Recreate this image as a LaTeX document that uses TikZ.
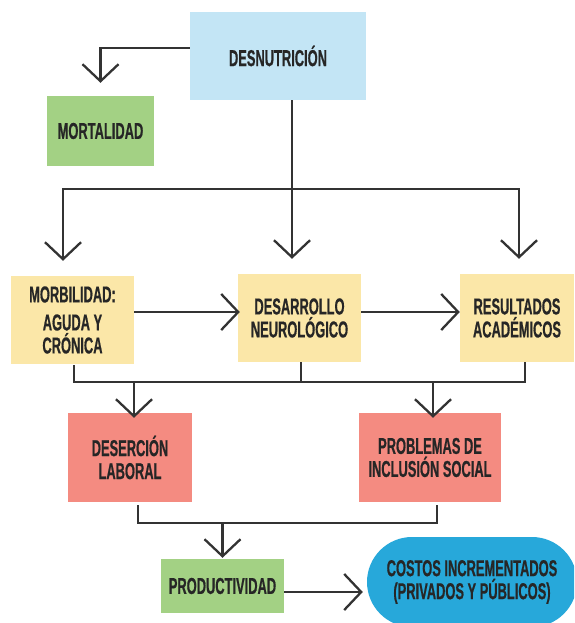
\documentclass[tikz,border=0pt]{standalone}
\usepackage{fontspec}
\newfontfamily\cf{Liberation Sans}[FakeStretch=0.56,FakeBold=0.6]
\usetikzlibrary{arrows.meta,calc}
\definecolor{cBlueL}{HTML}{C3E5F5}
\definecolor{cGreen}{HTML}{A3D184}
\definecolor{cYellow}{HTML}{FBE7A8}
\definecolor{cSalmon}{HTML}{F48B81}
\definecolor{cBlue}{HTML}{27A8DA}
\definecolor{cLine}{HTML}{333333}
\definecolor{cText}{HTML}{262626}
\tikzset{
  box/.style={rectangle, inner sep=0pt, align=center, text=cText,
    font=\cf\bfseries\fontsize{23}{23}\selectfont},
  line/.style={draw=cLine, line width=2.3pt},
  arr/.style={line, -{Straight Barb[length=17pt,width=36pt]}},
}
\begin{document}
\begin{tikzpicture}[x=1pt,y=1pt]
\useasboundingbox (0,0) rectangle (574,-623);
% nodes
\node[box, fill=cBlueL, minimum width=176pt, minimum height=88pt] (desn) at (278,-56) {DESNUTRICIÓN};
\node[box, fill=cGreen, minimum width=107pt, minimum height=70pt] (mort) at (100.5,-131) {MORTALIDAD};
\node[box, fill=cYellow, minimum width=123pt, minimum height=88pt] (morb) at (72.5,-320) {MORBILIDAD:\\[5pt]AGUDA Y\\CRÓNICA};
\node[box, fill=cYellow, minimum width=123pt, minimum height=88pt] (desa) at (299.5,-318) {DESARROLLO\\NEUROLÓGICO};
\node[box, fill=cYellow, minimum width=114pt, minimum height=88pt] (resu) at (517,-318) {RESULTADOS\\ACADÉMICOS};
\node[box, fill=cSalmon, minimum width=124pt, minimum height=89pt] (dese) at (130,-457.5) {DESERCIÓN\\LABORAL};
\node[box, fill=cSalmon, minimum width=142pt, minimum height=89pt] (prob) at (430,-457.5) {PROBLEMAS DE\\INCLUSIÓN SOCIAL};
\node[box, fill=cGreen, minimum width=123pt, minimum height=54pt] (prod) at (222.5,-586) {PRODUCTIVIDAD};
\begin{scope}
\clip (0,0) rectangle (574,-623);
\node[box, fill=cBlue, rounded corners=45pt, minimum width=210pt, minimum height=90pt] (cost) at (472,-582) {COSTOS INCREMENTADOS\\(PRIVADOS Y PÚBLICOS)};
\end{scope}
% connectors
\draw[arr] ([yshift=8pt]desn.west) -| ([yshift=13pt]mort.north);
\draw[line] ([xshift=14pt]desn.south) -- ++(0,-89) coordinate (j1);
\draw[arr] (j1) -| ([xshift=-9.5pt,yshift=15pt]morb.north);
\draw[arr] (j1) -- ([xshift=-7.5pt,yshift=15pt]desa.north);
\draw[arr] (j1) -| ([xshift=2pt,yshift=15pt]resu.north);
\draw[arr] ([yshift=8pt]morb.east) -- ([xshift=2pt,yshift=6pt]desa.west);
\draw[arr] ([yshift=6pt]desa.east) -- ([yshift=6pt]resu.west);
% bus 1
\draw[line] ([xshift=1.5pt,yshift=-1pt]morb.south) -- ++(0,-17) coordinate (bus) -| ([xshift=8pt]resu.south);
\draw[line] ([xshift=1.5pt]desa.south) |- (bus);
\coordinate (a1) at ([xshift=4pt,yshift=-5pt]dese.north);
\coordinate (a2) at ([xshift=3pt,yshift=-5pt]prob.north);
\draw[arr] (bus -| a1) -- (a1);
\draw[arr] (bus -| a2) -- (a2);
% bus 2
\draw[line] ([xshift=8pt,yshift=-3pt]dese.south) -- ++(0,-18) coordinate (bus2) -| ([xshift=7pt,yshift=-3pt]prob.south);
\coordinate (a3) at ([yshift=1pt]prod.north);
\draw[arr] (bus2 -| a3) -- (a3);
\draw[arr, shorten >=4pt] ([yshift=-6pt]prod.east) -- ([yshift=-6pt]prod.east -| cost.west);
\end{tikzpicture}
\end{document}
